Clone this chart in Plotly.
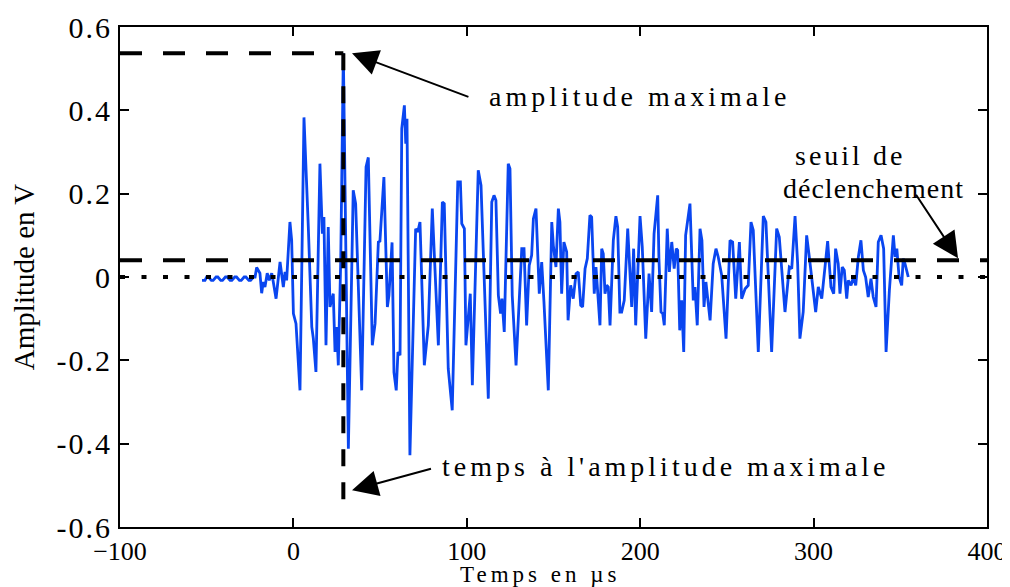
import plotly.graph_objects as go

# ---------------- data ----------------
time_us = [
    -52.7, -51.0, -50.0, -49.0, -47.3, -46.3, -44.6, -43.6, -41.9, -40.9, -39.2, -38.2,
    -36.5, -35.5, -33.8, -32.8, -31.1, -30.1, -28.4, -27.4, -25.7, -24.7, -23.0, -22.1,
    -21.2, -19.3, -18.3, -17.4, -16.4, -15.1, -13.9, -12.5, -11.6, -10.0, -7.7, -5.8,
    -4.8, -3.9, -2.0, -1.0, 0.0, 1.5, 3.8, 6.1, 8.6, 10.6, 11.5, 13.0, 15.3, 16.7,
    17.6, 18.8, 20.1, 21.1, 23.0, 24.0, 25.0, 25.9, 27.3, 28.8, 31.7, 34.5, 35.9, 39.4,
    41.9, 43.2, 45.5, 47.1, 49.0, 49.9, 52.2, 54.2, 55.1, 56.9, 58.0, 59.3, 60.3, 61.5,
    62.5, 64.0, 64.8, 65.5, 67.2, 70.5, 71.7, 73.0, 75.5, 77.8, 80.1, 83.6, 85.9, 87.0,
    89.3, 91.6, 94.8, 96.3, 97.1, 98.6, 99.5, 102.0, 103.2, 106.6, 108.2, 112.4, 114.4,
    115.7, 116.8, 118.2, 119.5, 120.3, 121.6, 123.9, 124.9, 126.2, 128.4, 130.7, 131.7,
    133.0, 134.5, 136.0, 137.4, 138.4, 139.9, 141.8, 143.2, 144.5, 147.0, 149.0, 149.9,
    151.4, 152.8, 153.7, 154.7, 156.0, 157.6, 158.4, 159.9, 161.4, 163.0, 164.3, 165.7,
    166.8, 168.2, 169.5, 171.0, 172.0, 173.5, 174.5, 176.8, 177.8, 178.7, 179.7, 180.7,
    181.6, 182.6, 184.5, 186.0, 187.0, 188.3, 189.3, 190.8, 192.8, 195.1, 196.2, 197.4,
    199.9, 201.2, 203.2, 205.1, 206.6, 208.0, 210.1, 210.8, 212.0, 213.0, 213.9, 215.6,
    216.8, 218.2, 219.6, 220.8, 221.6, 222.8, 223.9, 225.1, 226.2, 228.7, 230.6, 231.6,
    232.9, 234.5, 235.6, 236.8, 237.9, 240.3, 242.1, 243.7, 245.0, 247.0, 249.5, 251.8,
    253.3, 255.1, 257.2, 258.5, 260.5, 262.3, 263.9, 265.2, 268.1, 271.0, 272.5, 275.8,
    278.7, 280.2, 283.5, 286.0, 287.4, 289.3, 290.8, 292.1, 294.0, 296.0, 297.3, 298.9,
    299.8, 301.2, 302.7, 304.7, 308.1, 310.0, 311.6, 312.7, 314.2, 315.2, 316.5, 317.7,
    319.1, 320.0, 321.6, 322.9, 324.3, 325.8, 327.3, 328.7, 330.0, 331.5, 333.1, 334.4,
    336.0, 337.3, 338.9, 340.4, 341.8, 343.7, 346.0, 347.0, 348.0, 349.3, 350.8, 351.7,
    352.7, 354.6,
]
amplitude_v = [
    -0.008, -0.008, 0.0, 0.0, -0.008, -0.008, 0.0, 0.0, -0.008, -0.008, 0.0, 0.0,
    -0.008, -0.008, 0.0, 0.0, -0.008, -0.008, 0.0, 0.0, -0.008, -0.008, 0.0, 0.0,
    0.023, 0.009, -0.039, -0.012, -0.024, 0.009, -0.008, 0.009, -0.012, -0.052, 0.036, -0.024,
    0.012, -0.008, 0.132, 0.088, -0.088, -0.112, -0.272, 0.383, 0.12, -0.12, -0.148, -0.228, 0.272, 0.104,
    0.144, -0.164, 0.12, -0.072, -0.04, -0.18, -0.12, -0.212, 0.04, 0.537, -0.412, 0.208, 0.176, -0.272,
    0.264, 0.287, -0.164, -0.112, 0.084, 0.086, 0.24, -0.072, -0.044, 0.083, -0.229, -0.272, -0.18, -0.188,
    0.356, 0.412, 0.32, 0.38, -0.428, 0.116, 0.108, 0.132, -0.212, -0.116, 0.164, -0.164, 0.18, 0.176,
    -0.22, -0.32, 0.228, 0.228, 0.128, 0.116, -0.164, -0.04, -0.26, 0.256, 0.22, -0.292, 0.18,
    0.196, 0.184, -0.044, -0.088, -0.052, -0.132, 0.272, 0.26, -0.044, -0.212, 0.012, 0.068,
    0.068, -0.116, 0.028, 0.052, 0.14, 0.164, -0.04, 0.036, -0.06, -0.272, 0.132, 0.076,
    0.024, 0.164, 0.132, -0.04, 0.084, 0.06, -0.104, -0.02, -0.052, 0.008, 0.012, -0.068,
    -0.072, 0.02, 0.044, 0.148, 0.144, -0.04, 0.024, -0.116, 0.068, 0.056, -0.04, -0.02,
    -0.024, -0.116, 0.088, 0.146, 0.12, -0.084, -0.084, -0.056, 0.116, -0.072, 0.068, -0.116,
    0.146, 0.072, -0.148, 0.008, -0.084, 0.104, 0.196, 0.044, -0.084, -0.088, -0.116, 0.116,
    0.012, 0.084, 0.02, 0.068, 0.064, -0.128, -0.056, -0.18, 0.1, 0.176, -0.056, -0.024,
    -0.116, 0.116, 0.088, -0.072, -0.012, -0.104, 0.032, 0.068, 0.048, 0.004, -0.148, 0.088,
    0.084, -0.052, 0.084, -0.052, -0.028, -0.02, 0.132, 0.112, -0.18, 0.146, 0.132, -0.18,
    0.116, 0.096, -0.084, 0.024, 0.02, 0.146, 0.032, -0.148, -0.084, 0.1, 0.056, 0.0,
    -0.032, -0.084, -0.024, -0.052, 0.086, -0.024, -0.04, 0.068, 0.032, -0.04, 0.024, 0.016,
    -0.052, -0.008, -0.02, 0.0, -0.02, 0.048, 0.088, 0.016, 0.0, -0.048, -0.004, -0.048,
    -0.072, 0.084, 0.1, 0.068, -0.18, -0.032, 0.1, 0.048, 0.068, 0.0, -0.02, 0.044,
    0.032, 0.0,
]

max_time = 28.8          # time of maximal amplitude (µs)
max_amp = 0.537          # maximal amplitude (V)
trigger_level = 0.04     # seuil de déclenchement (V)
vline_bottom = -0.564
x_range = [-100, 400]
y_range = [-0.6, 0.6]
x_ticks = [-100, 0, 100, 200, 300, 400]
y_ticks = [-0.6, -0.4, -0.2, 0, 0.2, 0.4, 0.6]
y_ticktext = ["-0.6", "-0.4", "-0.2", "0", "0.2", "0.4", "0.6"]
x_title = "Temps en µs"
y_title = "Amplitude en V"

FONT = "Liberation Serif"


def spaced(s, px):
    return f'<span style="letter-spacing:{px}px">{s}</span>'


fig = go.Figure()

fig.add_trace(go.Scatter(x=time_us, y=amplitude_v, mode="lines",
                         line=dict(color="#0a46f0", width=2.8), hoverinfo="skip"))

# zero reference (dotted)
fig.add_trace(go.Scatter(x=x_range, y=[0, 0], mode="lines",
                         line=dict(color="black", width=4, dash="5px,16.5px")))
# trigger threshold (dashed)
fig.add_trace(go.Scatter(x=x_range, y=[trigger_level, trigger_level], mode="lines",
                         line=dict(color="black", width=4, dash="22px,21px")))
# maximal amplitude (dashed horizontal)
fig.add_trace(go.Scatter(x=[x_range[0], max_time], y=[max_amp, max_amp], mode="lines",
                         line=dict(color="black", width=4, dash="22px,21px")))
# time of maximal amplitude (dashed vertical)
fig.add_trace(go.Scatter(x=[max_time, max_time], y=[max_amp, vline_bottom], mode="lines",
                         line=dict(color="black", width=4, dash="17px,16px")))

ann_font = dict(family=FONT, size=28, color="black")
arrow = dict(showarrow=True, arrowhead=2, arrowsize=2.6, arrowwidth=2, arrowcolor="black",
             axref="x", ayref="y", xref="x", yref="y", text="")

annotations = [
    dict(arrow, x=33.8, y=max_amp, ax=101.8, ay=0.431),
    dict(arrow, x=33.8, y=-0.512, ax=80.2, ay=-0.459),
    dict(arrow, x=383.3, y=0.045, ax=358.5, ay=0.201),
    dict(x=111.6, y=0.434, xref="x", yref="y", xanchor="left", yanchor="middle",
         text=spaced("amplitude maximale", 4), showarrow=False, font=ann_font),
    dict(x=84.5, y=-0.455, xref="x", yref="y", xanchor="left", yanchor="middle",
         text=spaced("temps à l'amplitude maximale", 4), showarrow=False, font=ann_font),
    dict(x=321, y=0.292, xref="x", yref="y", xanchor="center", yanchor="middle",
         text=spaced("seuil de", 3), showarrow=False, font=ann_font),
    dict(x=334.5, y=0.213, xref="x", yref="y", xanchor="center", yanchor="middle",
         text=spaced("déclenchement", 1), showarrow=False, font=ann_font),
    # x-axis title, placed just under the tick labels
    dict(x=0.485, y=-0.095, xref="paper", yref="paper", xanchor="center", yanchor="middle",
         text=spaced(x_title, 4), showarrow=False, font=dict(family=FONT, size=23, color="black")),
]

# the page body has an 8px margin: size the figure so that it fills the window exactly
fig.update_layout(
    width=1002, height=579,
    margin=dict(l=112, r=23, t=19, b=60),
    paper_bgcolor="white", plot_bgcolor="white",
    showlegend=False,
    font=dict(family=FONT, color="black"),
    annotations=annotations,
)
fig.update_xaxes(range=x_range, tickvals=x_ticks, ticks="inside", ticklen=9, tickwidth=2,
                 tickcolor="black", showline=True, linecolor="black", linewidth=2,
                 mirror="ticks", showgrid=False, zeroline=False,
                 tickfont=dict(family=FONT, size=26),
                 automargin=False)
fig.update_yaxes(range=y_range, tickvals=y_ticks, ticktext=[spaced(t, 2) for t in y_ticktext],
                 ticks="inside", ticklen=9, tickwidth=2,
                 tickcolor="black", showline=True, linecolor="black", linewidth=2,
                 mirror="ticks", showgrid=False, zeroline=False,
                 tickfont=dict(family=FONT, size=30),
                 title=dict(text=y_title, font=dict(family=FONT, size=29), standoff=14),
                 automargin=False)

fig.write_html("out.html")
